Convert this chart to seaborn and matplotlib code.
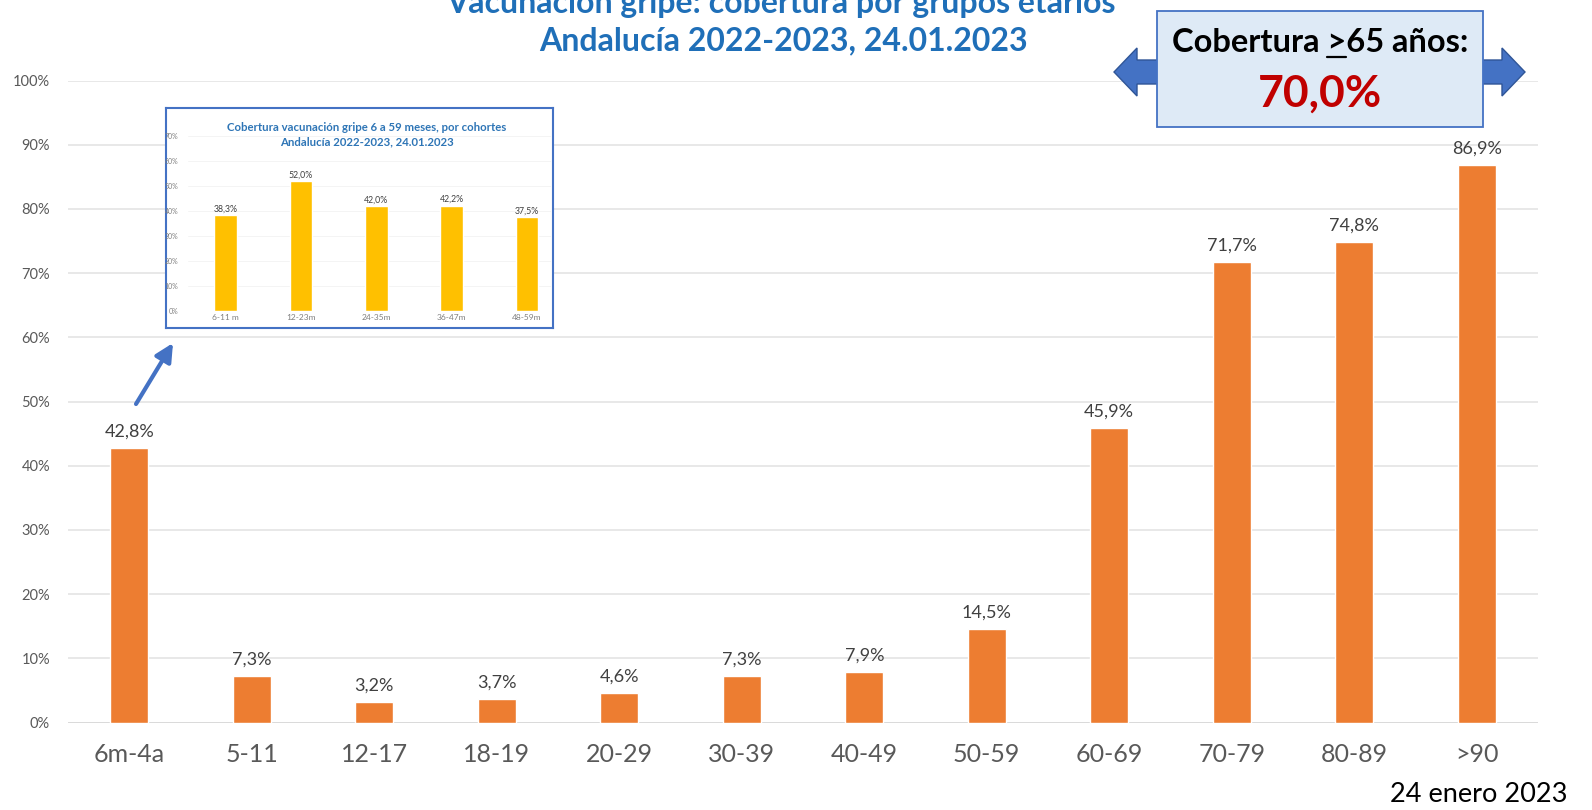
import matplotlib
matplotlib.use("Agg")
import matplotlib.pyplot as plt
import seaborn as sns
from matplotlib.patches import Polygon, Rectangle
from matplotlib.lines import Line2D

# ---------------- data ----------------
categories = ["6m-4a", "5-11", "12-17", "18-19", "20-29", "30-39",
              "40-49", "50-59", "60-69", "70-79", "80-89", ">90"]
coverage = [42.8, 7.3, 3.2, 3.7, 4.6, 7.3, 7.9, 14.5, 45.9, 71.7, 74.8, 86.9]
y_ticks = [0, 10, 20, 30, 40, 50, 60, 70, 80, 90, 100]

inset_categories = ["6-11 m", "12-23m", "24-35m", "36-47m", "48-59m"]
inset_coverage = [38.3, 52.0, 42.0, 42.2, 37.5]
inset_ticks = [0, 10, 20, 30, 40, 50, 60, 70]

title_line1 = "Vacunación gripe: cobertura por grupos etarios"
title_line2 = "Andalucía 2022-2023, 24.01.2023"
inset_title = "Cobertura vacunación gripe 6 a 59 meses, por cohortes\nAndalucía 2022-2023, 24.01.2023"
callout_label = "Cobertura >65 años:"
callout_value = "70,0%"
date_note = "24 enero 2023"


def pct(v):
    return f"{v:.1f}".replace(".", ",") + "%"


# ---------------- figure ----------------
W, H = 1592, 810
sns.set_theme(style="white")
plt.rcParams["font.family"] = ["Lato", "DejaVu Sans"]

fig = plt.figure(figsize=(W / 100, H / 100), dpi=100)
fig.patch.set_facecolor("white")


def fx(x):
    return x / W


def fy(y):
    return 1 - y / H


def rect(x0, y0, x1, y1):
    return [fx(x0), fy(y1), fx(x1) - fx(x0), fy(y0) - fy(y1)]


BAR = "#ED7D31"
GRID = "#E4E4E4"
TICK = "#595959"

# ---------------- main chart ----------------
ax = fig.add_axes(rect(68, 80.5, 1538, 722.5))
sns.barplot(x=categories, y=coverage, color=BAR, saturation=1, width=0.31,
            ax=ax, zorder=3)
ax.set_ylim(0, 100)
ax.set_xlim(-0.5, len(categories) - 0.5)
ax.set_yticks(y_ticks)
ax.set_yticklabels([f"{t}%" for t in y_ticks])
ax.grid(axis="y", color=GRID, lw=1.2, zorder=0)
ax.set_axisbelow(True)
for s in ax.spines.values():
    s.set_visible(False)
ax.axhline(0, color="#D9D9D9", lw=1.3, zorder=1)
ax.tick_params(axis="y", length=0, pad=13, labelsize=10.5, labelcolor=TICK)
ax.tick_params(axis="x", length=0, pad=15, labelsize=18, labelcolor=TICK)
ax.set_xlabel("")
ax.set_ylabel("")
ax.bar_label(ax.containers[0], labels=[pct(v) for v in coverage],
             padding=6, fontsize=13, color="#404040")

# ---------------- titles ----------------
TITLE_BLUE = "#1F6FB8"
fig.text(fx(781), fy(3), title_line1, ha="center", va="center",
         fontsize=23, fontweight="bold", color=TITLE_BLUE)
fig.text(fx(783), fy(41), title_line2, ha="center", va="center",
         fontsize=23, fontweight="bold", color=TITLE_BLUE)

fig.text(fx(1568), fy(795), date_note, ha="right", va="center",
         fontsize=19.5, color="black")

# ---------------- inset ----------------
frame = fig.add_axes(rect(166, 108, 553, 328))
frame.set_facecolor("white")
frame.set_xticks([])
frame.set_yticks([])
for s in frame.spines.values():
    s.set_color("#4472C4")
    s.set_linewidth(1.5)
frame.set_zorder(2)

iax = fig.add_axes(rect(188, 136, 551, 311))
iax.set_zorder(3)
iax.patch.set_alpha(0)
sns.barplot(x=inset_categories, y=inset_coverage, color="#FFC000",
            saturation=1, width=0.3, ax=iax, zorder=3)
iax.set_ylim(0, 70)
iax.set_xlim(-0.5, 4.32)
iax.set_yticks(inset_ticks)
iax.set_yticklabels([f"{t}%" for t in inset_ticks])
iax.grid(axis="y", color="#F2F2F2", lw=0.6, zorder=0)
for s in iax.spines.values():
    s.set_visible(False)
iax.tick_params(axis="y", length=0, pad=7, labelsize=5, labelcolor="#7F7F7F")
iax.tick_params(axis="x", length=0, pad=2, labelsize=6, labelcolor="#7F7F7F")
iax.set_xlabel("")
iax.set_ylabel("")
iax.bar_label(iax.containers[0], labels=[pct(v) for v in inset_coverage],
              padding=1, fontsize=6.3, color="#404040")
fig.text(fx(367), fy(135), inset_title, ha="center", va="center",
         fontsize=8.2, fontweight="bold", color="#2E75B6",
         linespacing=1.35, zorder=6)

# pointer arrow toward inset
ax.annotate("", xy=(fx(173), fy(343)), xycoords="figure fraction",
            xytext=(fx(136), fy(404)), textcoords="figure fraction",
            arrowprops=dict(arrowstyle="-|>,head_length=0.9,head_width=0.45",
                            color="#4472C4", lw=3, shrinkA=0, shrinkB=0),
            annotation_clip=False)

# ---------------- callout ----------------
ARROW_FILL = "#4472C4"
ARROW_EDGE = "#2F5597"
left_arrow = [(1114, 72), (1137, 48), (1137, 60), (1170, 60),
              (1170, 84), (1137, 84), (1137, 96)]
right_arrow = [(1525, 72), (1502, 48), (1502, 60), (1470, 60),
               (1470, 84), (1502, 84), (1502, 96)]
for pts in (left_arrow, right_arrow):
    fig.patches.append(Polygon([(fx(x), fy(y)) for x, y in pts], closed=True,
                               transform=fig.transFigure, facecolor=ARROW_FILL,
                               edgecolor=ARROW_EDGE, lw=1, zorder=5))
box = Rectangle((fx(1157), fy(127)), fx(1483) - fx(1157), fy(11) - fy(127),
                transform=fig.transFigure, facecolor="#DEEAF6",
                edgecolor="#4472C4", lw=1.3, zorder=6)
fig.patches.append(box)

renderer = fig.canvas.get_renderer()


def text_width(s, **kw):
    t = fig.text(0, 0, s, **kw)
    w = t.get_window_extent(renderer).width
    t.remove()
    return w


lab_kw = dict(fontsize=23.5, fontweight="bold")
cx = 1320
w_full = text_width(callout_label, **lab_kw)
gt_idx = callout_label.index(">")
w_prefix = text_width(callout_label[:gt_idx + 1], **lab_kw)
w_gt = text_width(">", **lab_kw)
fig.text(fx(cx), fy(52), callout_label, ha="center", va="baseline",
         color="black", zorder=7, **lab_kw)
left = cx - w_full / 2
fig.lines.append(Line2D([fx(left + w_prefix - w_gt), fx(left + w_prefix)],
                        [fy(57), fy(57)], transform=fig.transFigure,
                        color="black", lw=1.6, zorder=7))
fig.text(fx(cx), fy(107), callout_value, ha="center", va="baseline",
         fontsize=32, fontweight="bold", color="#C00000", zorder=7)

fig.savefig("out.png", dpi=100, facecolor="white")
